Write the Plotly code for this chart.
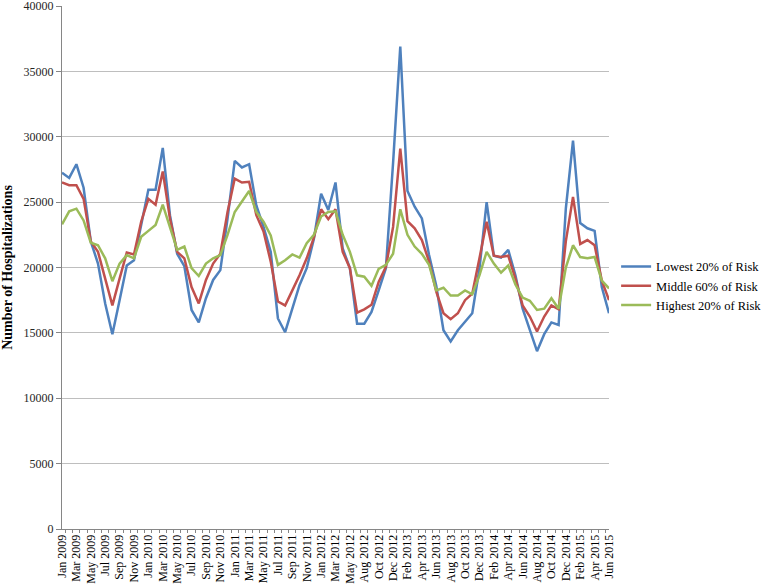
import plotly.graph_objects as go

months = ["Jan", "Feb", "Mar", "Apr", "May", "Jun", "Jul", "Aug", "Sep", "Oct", "Nov", "Dec"]
categories = []
for yr in range(2009, 2016):
    for m in months:
        lab = f"{m} {yr}"
        if lab == "Jul 2012":
            continue
        categories.append(lab)
        if lab == "Jun 2015":
            break
    if categories[-1] == "Jun 2015":
        break

lowest = [27250, 26850, 27900, 26100, 22000, 20300, 17250, 14900, 17500, 20150, 20550, 23300,
          25950, 25950, 29150, 24000, 21050, 20100, 16750, 15800, 17650, 19050, 19800, 23750,
          28150, 27650, 27900, 24750, 23100, 21200, 16100, 15050, 16850, 18650, 19950, 22200,
          25650, 24400, 26500, 21450, 19950, 15700, 15700, 16600, 18250, 19950, 28000, 36900,
          25850, 24650, 23750, 20950, 18600, 15200, 14350, 15200, 15850, 16500, 19900, 25000,
          20900, 20750, 21350, 19400, 16850, 15200, 13600, 14900, 15800, 15600, 24500, 29700,
          23400, 23000, 22800, 18500, 16500]
middle = [26500, 26300, 26300, 25250, 22000, 21200, 19150, 17100, 19150, 21150, 21000, 23500,
          25250, 24800, 27350, 23750, 21200, 20700, 18500, 17250, 19050, 20300, 21050, 24250,
          26800, 26500, 26550, 24000, 22750, 20450, 17400, 17100, 18250, 19400, 20700, 22300,
          24450, 23700, 24450, 21200, 19950, 16550, 16800, 17150, 18900, 20050, 23100, 29100,
          23550, 23000, 22100, 20450, 18150, 16500, 16050, 16500, 17500, 18000, 20700, 23500,
          20900, 20800, 20900, 19150, 17100, 16250, 15100, 16250, 17100, 16800, 22000, 25400,
          21800, 22100, 21700, 19000, 17500]
highest = [23300, 24300, 24500, 23600, 21900, 21700, 20700, 18950, 20300, 20950, 20700, 22350,
           22800, 23250, 24800, 23100, 21350, 21600, 19950, 19350, 20300, 20700, 20950, 22500,
           24250, 25050, 25850, 24250, 23500, 22450, 20200, 20550, 21000, 20750, 21850, 22500,
           23900, 24250, 24300, 22500, 21200, 19400, 19300, 18600, 19900, 20200, 21050, 24450,
           22500, 21600, 21050, 20200, 18250, 18450, 17850, 17850, 18250, 17950, 19400, 21200,
           20300, 19600, 20150, 18700, 17700, 17450, 16750, 16850, 17650, 16850, 20000, 21700,
           20800, 20700, 20800, 19000, 18400]

series_names = ["Lowest 20% of Risk", "Middle 60% of Risk", "Highest 20% of Risk"]
series_colors = ["#4F81BD", "#C0504D", "#9BBB59"]
y_ticks = [0, 5000, 10000, 15000, 20000, 25000, 30000, 35000, 40000]

tick_text = [c if i % 2 == 0 else "" for i, c in enumerate(categories)]

fig = go.Figure()
for name, vals, col in zip(series_names, [lowest, middle, highest], series_colors):
    fig.add_trace(go.Scatter(x=categories, y=vals, mode="lines", name=name,
                             line=dict(color=col, width=2.5)))

serif = "Liberation Serif, Times New Roman, serif"
fig.update_layout(
    width=761, height=587,
    margin=dict(l=62, r=152, t=6, b=58, autoexpand=False),
    paper_bgcolor="white", plot_bgcolor="white",
    font=dict(family=serif, size=12, color="#000000"),
    showlegend=True,
    legend=dict(x=1.013, xanchor="left", y=0.465, yanchor="middle",
                font=dict(family=serif, size=12.5, color="#000000"),
                bgcolor="rgba(0,0,0,0)", borderwidth=0, tracegroupgap=0),
    xaxis=dict(type="category", categoryorder="array", categoryarray=categories,
               tickmode="array", tickvals=categories, ticktext=tick_text,
               tickangle=-90, tickson="boundaries", ticks="outside", ticklen=3,
               tickcolor="#868686", showline=True, linecolor="#868686", linewidth=1,
               showgrid=False, zeroline=False, automargin=False,
               tickfont=dict(family=serif, size=12, color="#000000")),
    yaxis=dict(range=[0, 40000], tickmode="array", tickvals=y_ticks,
               ticktext=[str(v) for v in y_ticks],
               ticks="outside", ticklen=5, tickcolor="#868686",
               showline=True, linecolor="#868686", linewidth=1,
               showgrid=True, gridcolor="#BEBEBE", gridwidth=1, zeroline=False,
               automargin=False, ticklabeloverflow="allow",
               tickfont=dict(family=serif, size=12, color="#262626"),
               title=dict(text="<b>Number of Hospitalizations</b>", standoff=10,
                          font=dict(family=serif, size=14, color="#000000"))),
)

fig.write_html("out.html", config={"displayModeBar": False},
               post_script="document.body.style.margin='0px';")
